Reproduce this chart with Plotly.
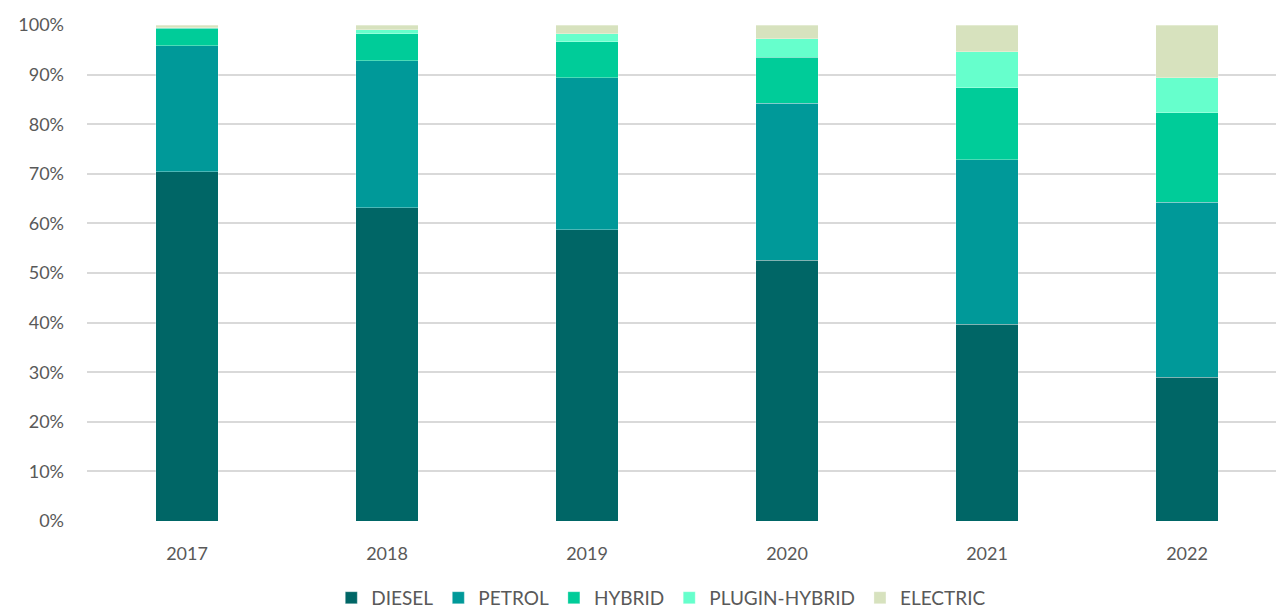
import plotly.graph_objects as go

years = ["2017", "2018", "2019", "2020", "2021", "2022"]
diesel = [70.4, 63.2, 58.7, 52.6, 39.7, 29.0]
petrol = [25.4, 29.6, 30.7, 31.6, 33.1, 35.3]
hybrid = [3.5, 5.4, 7.2, 9.3, 14.6, 18.0]
plugin_hybrid = [0.1, 0.8, 1.6, 3.7, 7.2, 7.1]
electric = [0.6, 1.0, 1.8, 2.8, 5.4, 10.6]

series = [
    ("DIESEL", diesel, "#006666"),
    ("PETROL", petrol, "#009999"),
    ("HYBRID", hybrid, "#00CC99"),
    ("PLUGIN-HYBRID", plugin_hybrid, "#66FFCC"),
    ("ELECTRIC", electric, "#D7E2BE"),
]

fig = go.Figure()
for name, vals, color in series:
    fig.add_trace(go.Bar(
        x=years, y=vals, name=name,
        marker=dict(color=color, line=dict(color="rgba(255,255,255,0.5)", width=0.6)),
        width=0.313,
    ))

fig.update_layout(
    barmode="stack",
    width=1276, height=612,
    margin=dict(l=87, r=0, t=25, b=91, autoexpand=False),
    paper_bgcolor="white", plot_bgcolor="white",
    font=dict(family="Lato, 'Open Sans', sans-serif", size=18, color="#595959"),
    xaxis=dict(range=[-0.5, 5.445], showgrid=False, showline=False, ticks="",
               ticklabelstandoff=20, tickfont=dict(size=18, color="#595959")),
    yaxis=dict(range=[0, 100], dtick=10, ticksuffix="%", showgrid=True,
               gridcolor="#D9D9D9", gridwidth=1.5, zeroline=False,
               ticklabelstandoff=22, tickfont=dict(size=18, color="#595959")),
    legend=dict(orientation="h", x=0.483, xanchor="center", y=-0.155, yanchor="middle",
                font=dict(size=19, color="#595959"), itemwidth=30, traceorder="normal"),
    bargap=0.5,
    showlegend=True,
)

fig.write_html("out.html")
